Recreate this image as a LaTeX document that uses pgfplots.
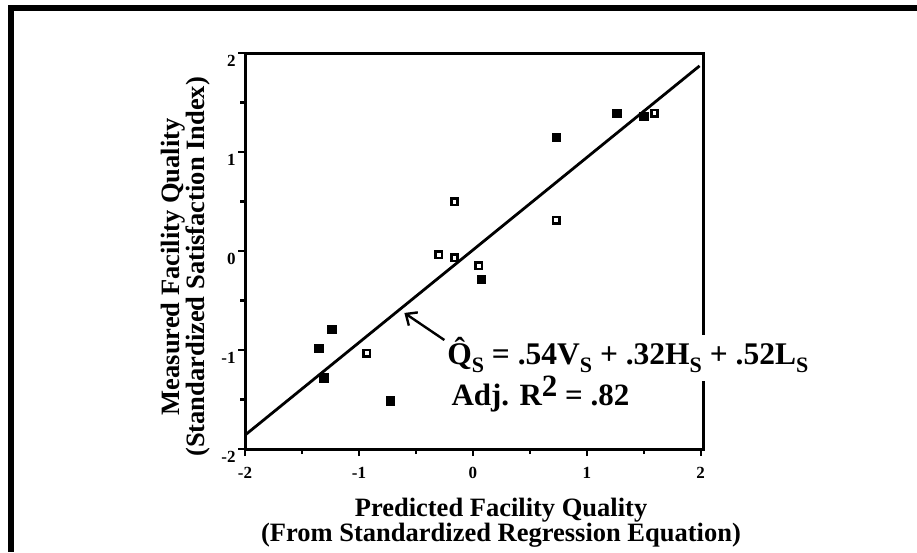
\documentclass[border=0pt]{standalone}
\usepackage{pgfplots}
\pgfplotsset{compat=1.18}
\usepackage{fontspec}
\setmainfont{Liberation Serif}
\usetikzlibrary{arrows.meta}

\newcommand\sub[1]{\raisebox{-8pt}{\fontsize{22}{22}\selectfont #1}}

\begin{document}
\begin{tikzpicture}
\useasboundingbox (0pt,0pt) rectangle (917pt,552pt);
% frame, top and left only
\fill (8pt,0pt) rectangle (14pt,547pt);
\fill (8pt,541pt) rectangle (917pt,547pt);
\begin{axis}[
    at={(245pt,103pt)}, anchor=south west,
    scale only axis, width=458pt, height=396pt,
    xmin=-2, xmax=2.02, ymin=-2, ymax=2,
    xtick={-2,-1,0,1,2}, ytick={-2,-1,0,1,2},
    minor xtick={-1.5,-0.5,0.5,1.5}, minor ytick={-1.5,-0.5,0.5,1.5},
    tick pos=left, tick align=outside,
    major tick length=7pt, minor tick length=5pt,
    every tick/.style={line width=2.2pt, black},
    line width=3pt,
    axis line style={line width=3pt},
    tick label style={font=\fontsize{17}{17}\selectfont\bfseries},
    /pgf/number format/assume math mode=true,
    yticklabel style={anchor=north east, inner sep=1pt},
    xticklabel style={anchor=north, yshift=-6pt},
    xlabel={Predicted Facility Quality\\(From Standardized Regression Equation)},
    xlabel style={font=\fontsize{26.5}{20}\selectfont\bfseries, align=center,
        at={(axis description cs:0.559,-0.119)}, anchor=north, inner sep=0pt},
    ylabel={Measured Facility Quality\\(Standardized Satisfaction Index)},
    ylabel style={font=\fontsize{26.5}{18}\selectfont\bfseries, align=center,
        at={(axis description cs:-0.072,0.46)}, anchor=south, inner sep=0pt},
]
% regression line
\addplot[line width=2.8pt, no marks] coordinates {(-2,-1.86) (1.99,1.87)};
% filled squares
\addplot[only marks, mark=square*, mark size=4.3pt, mark options={black, line width=0.4pt}]
coordinates {
(1.265,1.391) (1.498,1.361) (0.730,1.148) (0.072,-0.283)
(-1.239,-0.791) (-1.353,-0.983) (-1.309,-1.280) (-0.724,-1.515)
};
% open squares
\addplot[only marks, mark=square, mark size=3.2pt, mark options={black, line width=2.6pt}]
coordinates {
(1.595,1.391) (0.730,0.313) (-0.162,0.498) (-0.300,-0.040)
(-0.162,-0.068) (0.051,-0.148) (-0.932,-1.033)
};
\draw[line width=2.4pt, -{Straight Barb[length=9pt, width=16pt, line width=2.4pt]}]
    (axis cs:-0.25,-0.899) -- (axis cs:-0.601,-0.626);
\coordinate (eq) at (axis cs:-0.224,-1.146);
\coordinate (adj) at (axis cs:-0.189,-1.556);
\end{axis}
\node[anchor=base west, fill=white, inner sep=0pt, outer sep=0pt,
      text depth=17pt, text height=29pt]
    at (eq) {\fontsize{31.5}{31.5}\selectfont\bfseries
    \^{Q}\sub{S} = .54V\sub{S} + .32H\sub{S} + .52L\sub{S}};
\node[anchor=base west, inner sep=0pt] at (adj)
    {\fontsize{31}{31}\selectfont\bfseries Adj. R\raisebox{9pt}{2} = .82};
\end{tikzpicture}
\end{document}
